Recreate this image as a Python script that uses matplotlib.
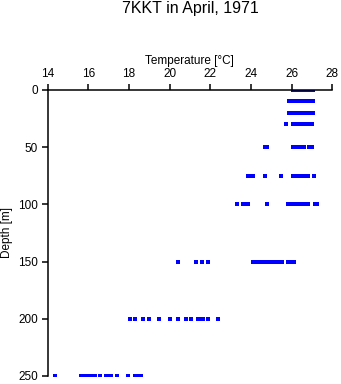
import matplotlib
matplotlib.use("Agg")
import matplotlib.pyplot as plt

plt.rcParams['font.family'] = ['Liberation Sans', 'DejaVu Sans']

title = "7KKT in April, 1971"
xlabel = "Temperature [°C]"
ylabel = "Depth [m]"
x_ticks = [14, 16, 18, 20, 22, 24, 26, 28]
y_ticks = [0, 50, 100, 150, 200, 250]

t_0 = [26.05, 26.25, 26.3, 26.35, 26.4, 26.45, 26.5, 26.55, 26.6, 26.65, 26.7, 26.75, 26.8, 26.85, 26.9, 27.05]
t_10 = [25.9, 26.05, 26.15, 26.25, 26.35, 26.45, 26.55, 26.65, 26.75, 26.85, 27.0, 27.05]
t_20 = [25.9, 26.05, 26.15, 26.25, 26.35, 26.45, 26.55, 26.65, 26.75, 26.85, 27.0, 27.05]
t_30 = [25.75, 26.05, 26.15, 26.25, 26.35, 26.45, 26.55, 26.65, 26.75, 26.85, 26.95, 27.0]
t_50 = [24.7, 24.8, 26.05, 26.15, 26.25, 26.35, 26.45, 26.55, 26.6, 26.85, 26.95, 27.0]
t_75 = [23.85, 24.05, 24.1, 24.7, 25.5, 26.05, 26.2, 26.35, 26.45, 26.55, 26.6, 26.8, 27.1]
t_100 = [23.3, 23.6, 23.75, 23.85, 24.8, 25.85, 25.95, 26.05, 26.15, 26.25, 26.35, 26.42,
         26.6, 26.8, 27.15, 27.25]
t_150 = [20.4, 21.3, 21.6, 21.9, 24.1, 24.2, 24.3, 24.4, 24.55, 24.65, 24.8, 24.9, 25.0,
         25.1, 25.2, 25.3, 25.4, 25.55, 25.85, 25.95, 26.05, 26.1]
t_200 = [18.05, 18.3, 18.7, 19.0, 19.5, 20.0, 20.4, 20.8, 21.05, 21.4, 21.5, 21.6, 21.65,
         21.9, 22.4]
t_250 = [14.35, 15.65, 15.75, 15.85, 15.95, 16.05, 16.15, 16.25, 16.35, 16.55, 16.85,
         16.95, 17.1, 17.4, 17.95, 18.3, 18.5, 18.6]

depths = [0, 10, 20, 30, 50, 75, 100, 150, 200, 250]
temps = [t_0, t_10, t_20, t_30, t_50, t_75, t_100, t_150, t_200, t_250]

fig = plt.figure(figsize=(3.41, 3.84), dpi=100)
ax = fig.add_axes([0.14, 0.021, 0.834, 0.745])

for d, ts in zip(depths, temps):
    ax.plot(ts, [d] * len(ts), linestyle='none', marker='s', markersize=2.2,
            color='#0000ff', markeredgewidth=0)

ax.set_xlim(14, 28)
ax.set_ylim(250, 0)
ax.set_xticks(x_ticks)
ax.set_yticks(y_ticks)
ax.xaxis.tick_top()
ax.xaxis.set_label_position('top')
ax.spines['bottom'].set_visible(False)
ax.spines['right'].set_visible(False)
for s in ['top', 'left']:
    ax.spines[s].set_linewidth(1.1)
ax.tick_params(axis='both', direction='out', length=4.5, width=1.1, labelsize=8.5, pad=2.5)
ax.set_xlabel(xlabel, fontsize=8.5, labelpad=3)
ax.set_ylabel(ylabel, fontsize=8.5, labelpad=4)
fig.text(0.557, 0.979, title, ha='center', va='center', fontsize=11.5)

fig.savefig("out.png", dpi=100)
